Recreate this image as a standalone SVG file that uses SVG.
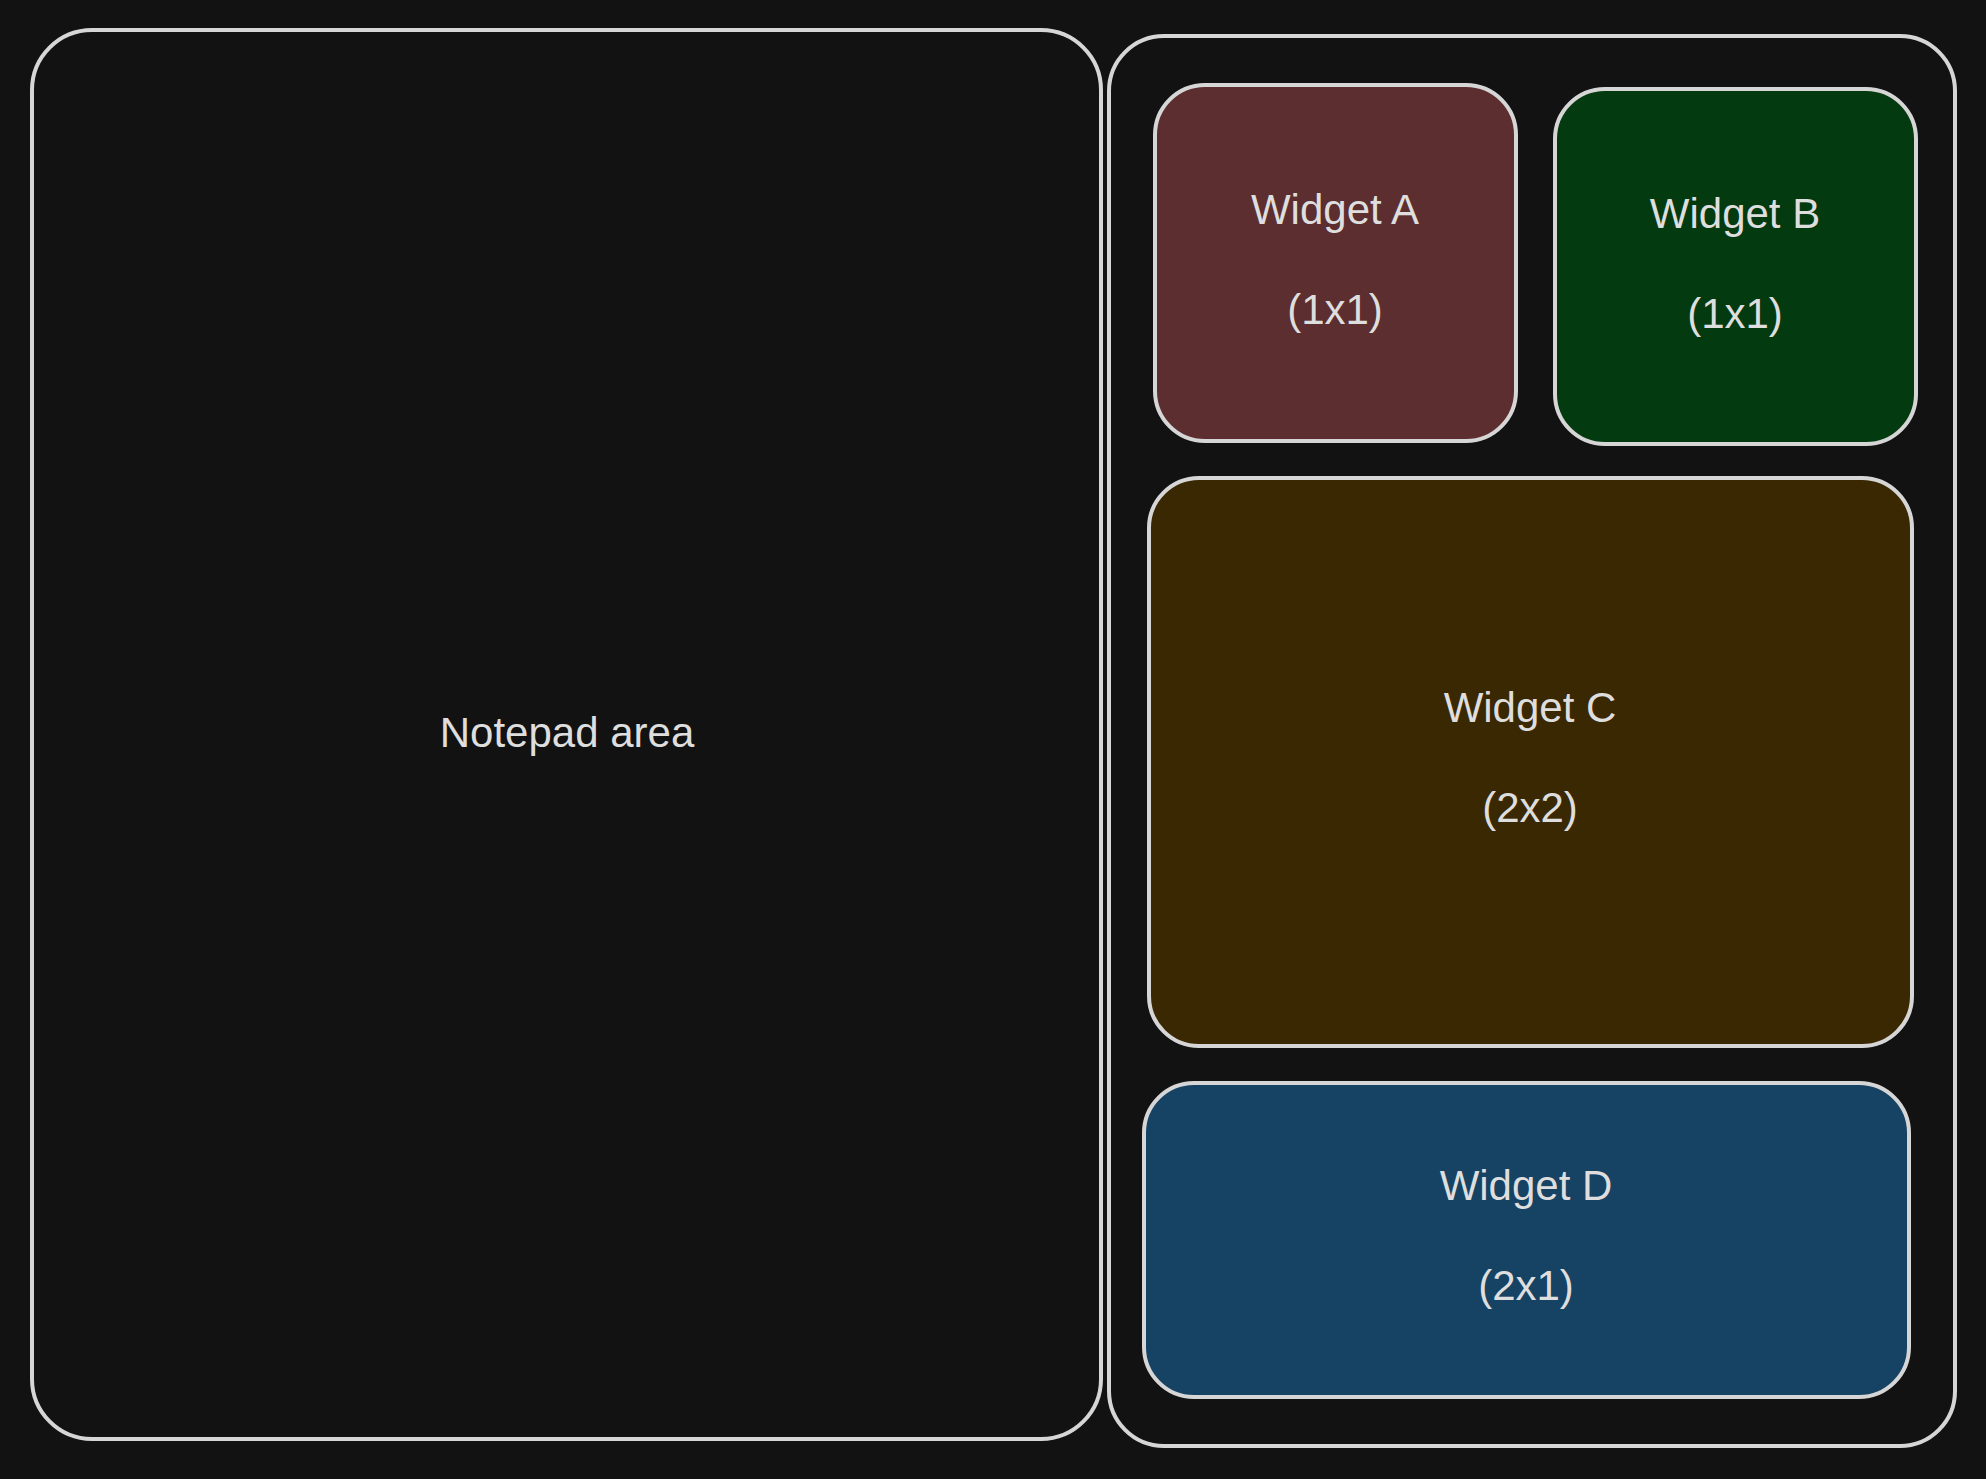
<svg xmlns="http://www.w3.org/2000/svg" width="1986" height="1479" viewBox="0 0 1986 1479">
  <style>
    .box { stroke: #d6d6d6; stroke-width: 4; }
    .lbl { font-family: "Liberation Sans", "DejaVu Sans", sans-serif; font-size: 42px; fill: #dedede; text-anchor: middle; }
  </style>
  <rect x="0" y="0" width="1986" height="1479" fill="#121212"/>
  <g id="notepad">
    <rect class="box" x="32" y="30" width="1069" height="1409" rx="60" ry="60" fill="#121212"/>
    <text class="lbl" x="567" y="747">Notepad area</text>
  </g>
  <g id="widget-panel">
    <rect class="box" x="1109" y="36" width="846" height="1410" rx="55" ry="55" fill="#121212"/>
  </g>
  <g id="widget-a">
    <rect class="box" x="1155" y="85" width="361" height="356" rx="50" ry="50" fill="#5c2e2f"/>
    <text class="lbl" x="1335" y="224">Widget A</text>
    <text class="lbl" x="1335" y="324">(1x1)</text>
  </g>
  <g id="widget-b">
    <rect class="box" x="1555" y="89" width="361" height="355" rx="50" ry="50" fill="#043a10"/>
    <text class="lbl" x="1735" y="228">Widget B</text>
    <text class="lbl" x="1735" y="328">(1x1)</text>
  </g>
  <g id="widget-c">
    <rect class="box" x="1149" y="478" width="763" height="568" rx="50" ry="50" fill="#3a2802"/>
    <text class="lbl" x="1530" y="722">Widget C</text>
    <text class="lbl" x="1530" y="822">(2x2)</text>
  </g>
  <g id="widget-d">
    <rect class="box" x="1144" y="1083" width="765" height="314" rx="50" ry="50" fill="#164263"/>
    <text class="lbl" x="1526" y="1200">Widget D</text>
    <text class="lbl" x="1526" y="1300">(2x1)</text>
  </g>
  <g id="connectors"/>
</svg>
